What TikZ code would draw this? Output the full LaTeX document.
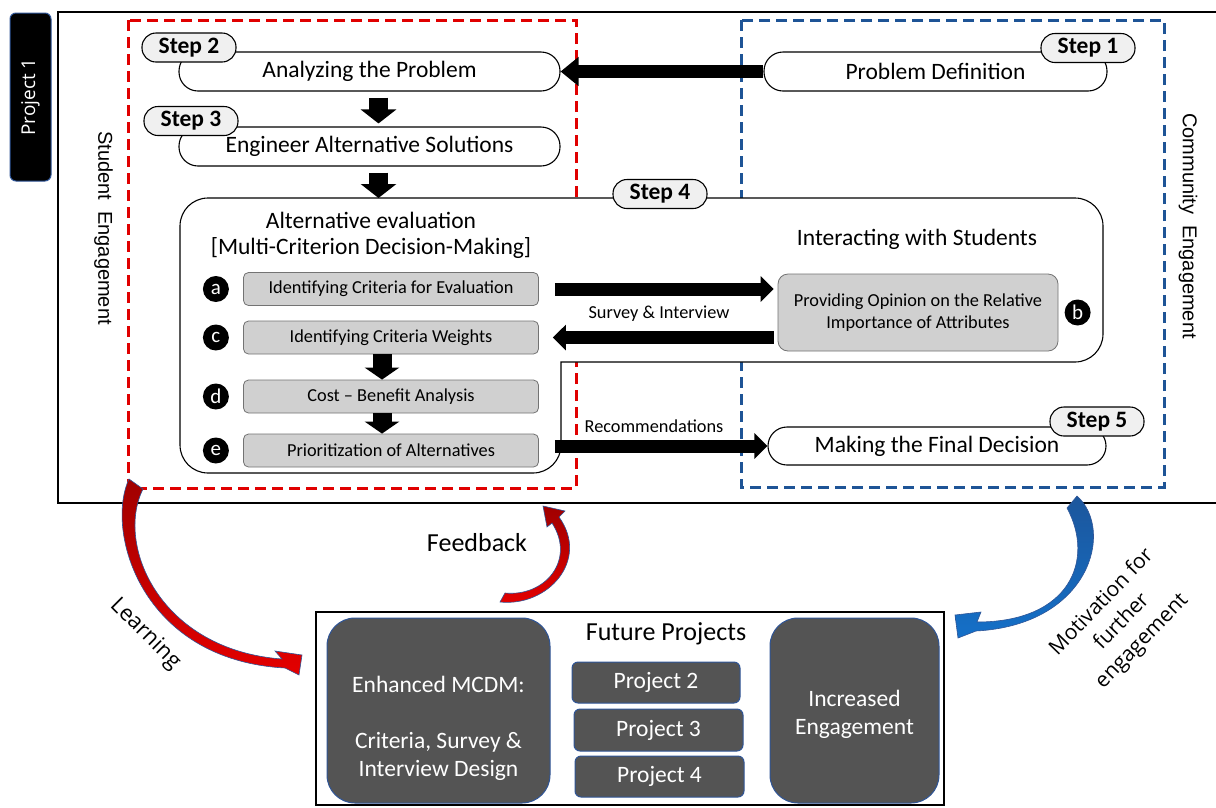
\documentclass[tikz,border=0pt]{standalone}
\usepackage{fontspec}
\setmainfont{Carlito}
\newfontfamily\segoefont{Open Sans}
\newfontfamily\arialfont{Liberation Sans}
\usetikzlibrary{arrows.meta,positioning}
\definecolor{dashred}{RGB}{224,0,0}
\definecolor{dashblue}{RGB}{30,84,150}
\definecolor{tabgray}{RGB}{240,240,240}
\definecolor{critgray}{RGB}{208,208,208}
\definecolor{critedge}{RGB}{115,115,115}
\definecolor{darkfill}{RGB}{84,84,84}
\definecolor{edgeblue}{RGB}{47,85,151}
\definecolor{ribbondark}{RGB}{160,0,0}
\definecolor{ribbonred}{RGB}{228,0,0}
\definecolor{ribbonblue}{RGB}{28,86,156}
\definecolor{ribbonlight}{RGB}{20,112,200}
\newcommand{\bigfont}{\fontsize{23.5}{28}\selectfont}
\newcommand{\smallfont}{\fontsize{18.3}{22}\selectfont}
\tikzstyle{pill} = [draw=black, line width=1.1pt, rounded corners=19pt, fill=white, minimum height=39pt, inner sep=0pt, font=\bigfont]
\tikzstyle{steptab} = [draw=black, line width=1.1pt, rounded corners=14pt, fill=tabgray, minimum width=94pt, minimum height=29pt, inner sep=0pt, font=\bigfont\bfseries]
\tikzstyle{crit} = [draw=critedge, line width=0.8pt, rounded corners=5pt, fill=critgray, minimum width=295pt, minimum height=33pt, inner sep=0pt, font=\smallfont]
\tikzstyle{letterdot} = [circle, fill=black, text=white, minimum size=26pt, inner sep=0pt, font=\fontsize{21}{21}\selectfont]
\tikzstyle{fatarrow} = [line width=13pt, -{Triangle[width=28pt,length=18pt]}]
\tikzstyle{midarrow} = [line width=13pt, -{Triangle[width=25pt,length=13pt]}]
\tikzstyle{downarrow} = [line width=19pt, -{Triangle[width=35pt,length=14pt]}]
\tikzstyle{smalldown} = [line width=19pt, -{Triangle[width=34pt,length=12pt]}]
\tikzstyle{reddash} = [draw=dashred, line width=3pt, dash pattern=on 11pt off 6pt]
\tikzstyle{bluedash} = [draw=dashblue, line width=3pt, dash pattern=on 11pt off 6pt]
\tikzstyle{darkbox} = [draw=edgeblue, line width=1pt, fill=darkfill, text=white, font=\bigfont, inner sep=0pt, align=center]
\tikzstyle{ribbon} = [draw=edgeblue, line width=0.6pt]

\begin{document}
\begin{tikzpicture}[x=1pt,y=-1pt]
        \useasboundingbox (0,0) rectangle (1216,807);
        \draw [line width=1.8pt] (1216,12) -- (58,12) -- (58,503) -- (1216,503);
        \node [draw=edgeblue, line width=1pt, fill=black, rounded corners=6pt, text=white, rotate=90, minimum width=168pt, minimum height=41pt, inner sep=0pt, font=\segoefont\fontsize{19}{19}\selectfont] (p1) at (30.5,97) {Project 1};
        \draw [reddash] (128,20) rectangle (576,488);
        \draw [bluedash] (741,20) rectangle (1164,487);
        \node [rotate=-90, font=\arialfont\fontsize{20}{20}\selectfont] (stud) at (103.5,228) {Student\ \ Engagement};
        \node [rotate=-90, font=\arialfont\fontsize{20}{20}\selectfont] (comm) at (1188,226) {Community\ \ Engagement};
        \node [pill, minimum width=381pt] (ap) at (369.5,71.5) {Analyzing the Problem};
        \node [pill, minimum width=381pt] (es) at (369.5,146.5) {Engineer Alternative Solutions};
        \node [pill, minimum width=343pt] (pd) at (935.5,71.5) {Problem Definition};
        \node [steptab] (s2) at (189,47.5) {Step 2};
        \node [steptab] (s3) at (191,121) {Step 3};
        \node [steptab] (s1) at (1088,48) {Step 1};
        \draw [line width=1.1pt, fill=white, rounded corners=28pt] (180,198) -- (1103,198) -- (1103,362) [sharp corners] -- (561,362) [rounded corners=28pt] -- (561,473) -- (180,473) -- cycle;
        \coordinate (s4top) at (378.5,198);
        \node [steptab] (s4) at (660,194) {Step 4};
        \node [font=\fontsize{23.5}{26}\selectfont, align=center] (alt) at (371,235) {Alternative evaluation\\ {[}Multi-Criterion Decision-Making{]}};
        \node [font=\bigfont] (inter) at (917,239) {Interacting with Students};
        \node [crit] (crA) at (391,289) {Identifying Criteria for Evaluation};
        \node [crit] (crC) at (391,337.5) {Identifying Criteria Weights};
        \node [crit] (crD) at (391,396.5) {Cost -- Benefit Analysis};
        \node [crit] (crE) at (391,450.5) {Prioritization of Alternatives};
        \node [crit, minimum width=280pt, minimum height=77pt, rounded corners=10pt, align=center] (opin) at (918,312.5) {Providing Opinion on the Relative\\Importance of Attributes};
        \node [letterdot, left=14pt of crA] (la) {a};
        \node [letterdot, left=14pt of crC] (lc) {c};
        \node [letterdot, left=14pt of crD] (ld) {d};
        \node [letterdot, left=14pt of crE] (le) {e};
        \node [letterdot, right=6pt of opin] (lb) {b};
        \node [pill, minimum width=338pt, minimum height=38pt] (fin) at (937,446) {Making the Final Decision};
        \node [steptab] (s5) at (1097,421.5) {Step 5};
        \draw [fatarrow] (pd) -- (ap);
        \draw [downarrow] ([xshift=9pt,yshift=-6pt]ap.south) -- ([xshift=9pt,yshift=3pt]es.north);
        \draw [downarrow] ([xshift=9pt,yshift=-6pt]es.south) -- (s4top);
        \draw [midarrow, shorten >=4pt] ([xshift=16pt]crA.east) -- (crA.east -| opin.west);
        \draw [midarrow, shorten <=4pt] (crC.east -| opin.west) -- ([xshift=14pt]crC.east);
        \draw [midarrow] ([xshift=16pt]crE.east |- fin.west) -- (fin.west);
        \draw [smalldown] ([xshift=-9pt]crC.south) -- ([xshift=-9pt]crD.north);
        \draw [smalldown] ([xshift=-9pt]crD.south) -- ([xshift=-9pt]crE.north);
        \node [font=\smallfont] (survey) at (659,314) {Survey \& Interview};
        \node [font=\smallfont] (recom) at (654,426) {Recommendations};
        \node [draw=black, line width=1.5pt, minimum width=628pt, minimum height=193pt, inner sep=0pt] (futbox) at (630,708.5) {};
        \node [font=\fontsize{26}{26}\selectfont] (futt) at (666,634) {Future Projects};
        \node [darkbox, rounded corners=6pt, minimum width=168pt, minimum height=41pt] (p2) at (656,682.5) {Project 2};
        \node [darkbox, rounded corners=6pt, minimum width=169pt, minimum height=42pt] (p3) at (658.5,730) {Project 3};
        \node [darkbox, rounded corners=6pt, minimum width=169pt, minimum height=41pt] (p4) at (659.5,776.5) {Project 4};
        \node [darkbox, rounded corners=28pt, minimum width=223pt, minimum height=185pt] (enh) at (438.5,710.5) {};
        \node [text=white, font=\bigfont, align=center] (enht) at (438.5,728) {Enhanced MCDM:\\[28pt]Criteria, Survey \&\\Interview Design};
        \node [darkbox, rounded corners=28pt, minimum width=169pt, minimum height=185pt] (incr) at (854.5,710.5) {};
        \node [text=white, font=\bigfont, align=center] (incrt) at (854.5,714.5) {Increased\\Engagement};
        \node [font=\fontsize{26}{26}\selectfont] (feed) at (477,543) {Feedback};
        \node [rotate=-45, font=\segoefont\fontsize{22}{22}\selectfont] (learn) at (145,634) {Learning};
        \node [rotate=46, align=center, font=\segoefont\fontsize{21}{28}\selectfont] (motiv) at (1122,622) {Motivation for\\further\\engagement};
        \shadedraw [ribbon, top color=ribbondark, bottom color=ribbonred] (129,479) .. controls (105,530) and (140,660) .. (285,668) -- (299,675) -- (302,655) -- (275,651) -- (282,659) .. controls (160,650) and (115,545) .. (143,489) -- cycle;
        \shadedraw [ribbon, top color=ribbondark, bottom color=ribbonred] (500,602) .. controls (548,607) and (590,560) .. (559,517) -- (565,511) -- (543,506) -- (547,527) -- (552,523) .. controls (576,560) and (545,597) .. (505,593) -- cycle;
        \shadedraw [ribbon, top color=ribbonblue, bottom color=ribbonlight] (1077,496) .. controls (1115,530) and (1090,625) .. (976,631) -- (958,638) -- (955,615) -- (981,612) -- (977,622) .. controls (1070,622) and (1095,560) .. (1067,508) -- cycle;
\end{tikzpicture}
\end{document}
